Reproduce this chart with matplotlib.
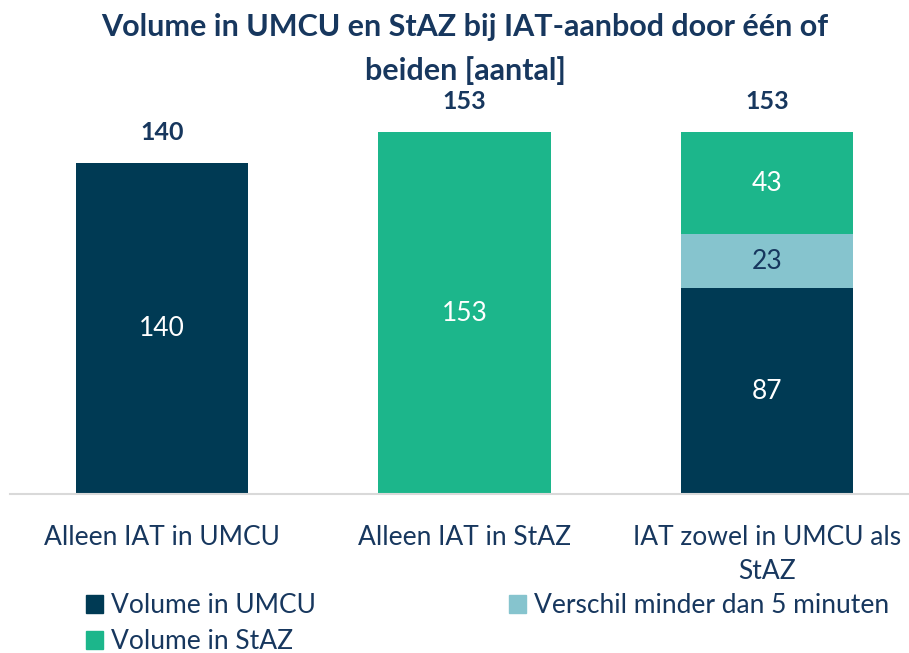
import matplotlib
matplotlib.use("Agg")
import matplotlib.pyplot as plt
from matplotlib.patches import Patch

plt.rcParams['font.family'] = ['Lato', 'DejaVu Sans']

categories = ["Alleen IAT in UMCU", "Alleen IAT in StAZ", "IAT zowel in UMCU als\nStAZ"]
umcu = [140, 0, 87]
verschil = [0, 0, 23]
staz = [0, 153, 43]
totals = [140, 153, 153]
series_names = ["Volume in UMCU", "Verschil minder dan 5 minuten", "Volume in StAZ"]

NAVY = "#003A54"
LIGHT = "#86C4CE"
GREEN = "#1CB68B"
TEXT = "#17375E"

fig = plt.figure(figsize=(9.09, 6.53), dpi=100)
ax = fig.add_axes([10/909, (653-494)/653, 899/909, 394/653])

x = list(range(len(categories)))
w = 0.569
bottoms2 = [a for a in umcu]
bottoms3 = [a + b for a, b in zip(umcu, verschil)]
b1 = ax.bar(x, umcu, w, color=NAVY)
b2 = ax.bar(x, verschil, w, bottom=bottoms2, color=LIGHT)
b3 = ax.bar(x, staz, w, bottom=bottoms3, color=GREEN)

for i in x:
    for vals, bots, col in ((umcu, [0]*3, "white"), (verschil, bottoms2, TEXT), (staz, bottoms3, "white")):
        v = vals[i]
        if v > 0:
            ax.text(i, bots[i] + v/2, f"{v}", ha="center", va="center", color=col, fontsize=19)
    ax.text(i, totals[i] + 8, f"{totals[i]}", ha="center", va="bottom", color=TEXT,
            fontsize=18, fontweight="bold")

ax.set_xlim((10-162)/302.5, (909-162)/302.5)
ax.set_ylim(0, 394/2.364)
for s in ["top", "right", "left"]:
    ax.spines[s].set_visible(False)
ax.spines["bottom"].set_color("#D9D9D9")
ax.spines["bottom"].set_linewidth(1.5)
ax.set_yticks([])
ax.set_xticks(x)
ax.set_xticklabels(categories, fontsize=19, color=TEXT, linespacing=1.45)
ax.tick_params(axis="x", length=0, pad=22)

fig.text(465/909, 1 - 13/653, "Volume in UMCU en StAZ bij IAT-aanbod door één of\nbeiden [aantal]",
         ha="center", va="top", fontsize=22, fontweight="bold", color=TEXT, linespacing=1.62)

handles = [Patch(color=NAVY), Patch(color=GREEN), Patch(color=LIGHT)]
labels = [series_names[0], series_names[2], series_names[1]]
fig.legend(handles, labels, ncol=2, loc="upper left", bbox_to_anchor=(86/909, 1 - 593/653),
           frameon=False, fontsize=19, labelcolor=TEXT, handlelength=0.65, handleheight=0.65,
           handletextpad=0.3, columnspacing=7.3, labelspacing=0.42, borderaxespad=0, borderpad=0)

fig.savefig("out.png", dpi=100)
